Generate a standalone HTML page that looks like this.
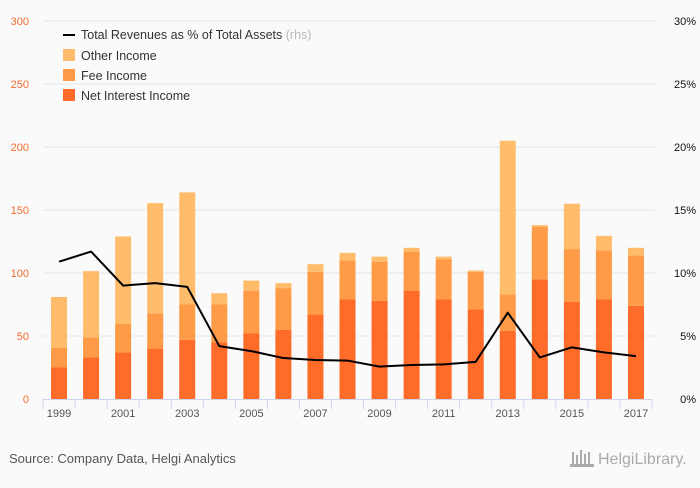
<!DOCTYPE html>
<html><head><meta charset="utf-8"><style>
body{margin:0;background:#fafafa;font-family:"Liberation Sans",sans-serif}
svg text{font-family:"Liberation Sans",sans-serif}
</style></head><body>
<svg id="chart" width="700" height="483" xmlns="http://www.w3.org/2000/svg">
<rect width="700" height="483" fill="#fafafa"/>
<g id="grid"></g><g id="bars"></g><g id="axes"></g><g id="line"></g>
<g font-size="12.5" fill="#333">
<line x1="63" y1="35" x2="75" y2="35" stroke="#000" stroke-width="2"/>
<text x="81" y="39">Total Revenues as % of Total Assets <tspan fill="#bbb">(rhs)</tspan></text>
<rect x="63" y="49" width="12" height="12" fill="#FFBD6B"/>
<text x="81" y="60">Other Income</text>
<rect x="63" y="69" width="12" height="12" fill="#FF9B47"/>
<text x="81" y="80">Fee Income</text>
<rect x="63" y="89" width="12" height="12" fill="#FF6B28"/>
<text x="81" y="100">Net Interest Income</text>
</g>
<text x="9" y="463" font-size="13" fill="#555">Source: Company Data, Helgi Analytics</text>
<text x="598" y="464" font-size="16" fill="#aaa" font-family="Liberation Serif">HelgiLibrary.</text>
<g fill="#aaa"><rect x="572" y="452" width="2" height="14"/><rect x="576" y="455" width="2" height="11"/><rect x="580" y="450" width="2" height="16"/><rect x="584" y="454" width="2" height="12"/><rect x="588" y="452" width="2" height="14"/><rect x="570" y="464" width="24" height="3"/></g>
</svg>
<script>
const years=[1999,2000,2001,2002,2003,2004,2005,2006,2007,2008,2009,2010,2011,2012,2013,2014,2015,2016,2017];
const netInterest=[25,33,37,40,47,45,52,55,67,79,78,86,79,71,54,95,77,79,74];
const feeIncome=[15.5,16,22.5,28,28,30,34,33,34,31,31,31,32,30,29,41.5,42,39,40];
const otherIncome=[40.5,52.5,69.5,87.5,89,9,8,4,6,6,4,3,2,1,122,1.5,36,11.5,6];
const ratioPct=[10.9,11.7,9.0,9.2,8.9,4.2,3.8,3.25,3.1,3.05,2.57,2.7,2.75,2.95,6.85,3.3,4.1,3.7,3.4];
const leftTicks=[0,50,100,150,200,250,300];
const rightTicks=[0,5,10,15,20,25,30];
const NS="http://www.w3.org/2000/svg";
const x0=43,x1=652,yB=399,yT=21;
const step=(x1-x0)/years.length;
const xC=i=>x0+step*(i+0.5);
const yL=v=>yB-(v/300)*(yB-yT);
const yR=v=>yB-(v/30)*(yB-yT);
function mk(tag,attrs,parent){const e=document.createElementNS(NS,tag);for(const k in attrs)e.setAttribute(k,attrs[k]);document.getElementById(parent).appendChild(e);return e;}
leftTicks.forEach((t,i)=>{
 if(t>0){const g=mk('line',{x1:x0,x2:x1+3,y1:yL(t),y2:yL(t),stroke:'#e6e6e6','stroke-width':1},'grid');
 
 }
 const lt=mk('text',{x:29,y:yL(t)+4,'text-anchor':'end','font-size':11,fill:'#f26b2e'},'axes');lt.textContent=t;
 
 
 const rt=mk('text',{x:696,y:yR(rightTicks[i])+4,'text-anchor':'end','font-size':11,fill:'#111'},'axes');rt.textContent=rightTicks[i]+'%';
 
 
});
const ax=mk('line',{x1:x0,x2:x1,y1:yB+0.5,y2:yB+0.5,stroke:'#ccd6eb'},'axes');


for(let i=0;i<=years.length;i++){const tk=mk('line',{x1:x0+step*i,x2:x0+step*i,y1:yB,y2:yB+10,stroke:'#ccd6eb'},'axes');
 
 }
const bw=16;
years.forEach((y,i)=>{
 const segs=[[netInterest[i],'#FF6B28','bar-net-interest'],[feeIncome[i],'#FF9B47','bar-fee-income'],[otherIncome[i],'#FFBD6B','bar-other-income']];
 let base=0;
 segs.forEach(s=>{const r=mk('rect',{x:xC(i)-bw/2,y:yL(base+s[0]),width:bw,height:yL(base)-yL(base+s[0]),fill:s[1]},'bars');
  
  
  base+=s[0];});
 if(i%2===0){const t=mk('text',{x:xC(i),y:417,'text-anchor':'middle','font-size':11,fill:'#555'},'axes');t.textContent=y;
  
  }
});
const pts=ratioPct.map((v,i)=>xC(i)+','+yR(v)).join(' ');
const pl=mk('polyline',{points:pts,fill:'none',stroke:'#000','stroke-width':2,'stroke-linejoin':'round'},'line');


</script>
</body></html>
